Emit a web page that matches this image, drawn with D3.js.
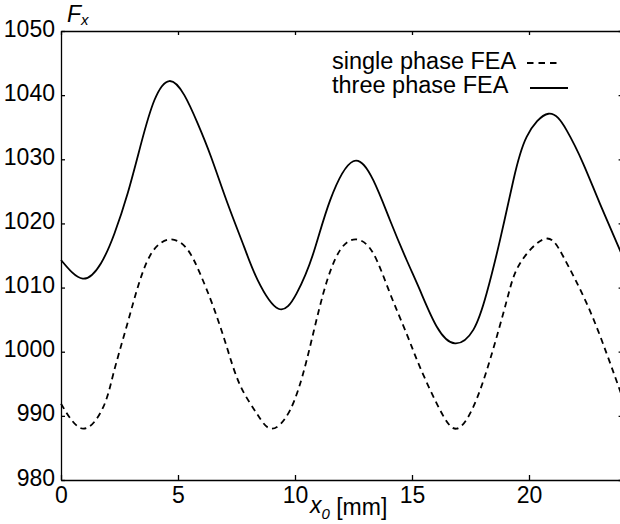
<!DOCTYPE html>
<html>
<head>
<meta charset="utf-8">
<script src="https://cdn.jsdelivr.net/npm/d3@7"></script>
<style>
  body { margin: 0; background: #fff; }
  svg { display: block; font-family: "Liberation Sans", Arial, Helvetica, sans-serif; }
  .axis path, .axis line { stroke: #000; stroke-width: 1.3; }
  .axis text { font-size: 23px; fill: #000; }
</style>
</head>
<body>
<div id="wrapper"></div>
<script>
// data, x0 in mm
const xThree = [0, 0.93, 1.71, 2.28, 2.85, 3.42, 3.99, 4.63, 5.27, 5.84, 6.41, 7.12, 7.83, 8.4, 9.29, 10.07, 10.78, 11.5, 12.49, 13.35, 14.06, 14.77, 15.34, 16.06, 16.84, 17.62, 18.19, 18.76, 19.33, 19.9, 20.83, 21.61, 22.32, 23.03, 23.89, 24]
const yThree = [1014.3, 1011.4, 1013.8, 1018.4, 1024.7, 1032.4, 1039.2, 1042.2, 1040, 1035.6, 1030.4, 1023.1, 1016.3, 1011.2, 1006.7, 1009.1, 1015.3, 1023.6, 1029.7, 1026.7, 1020.5, 1014.3, 1009.6, 1003.9, 1001.3, 1003.4, 1009.1, 1017.4, 1026.7, 1033.5, 1037.1, 1034.5, 1029.3, 1023.1, 1015.8, 1014.8]

const xSingle = [0, 0.95, 1.81, 2.24, 2.8, 3.38, 3.95, 4.66, 5.37, 5.94, 6.51, 7.08, 7.65, 8.36, 9.0, 9.79, 10.5, 11.21, 11.92, 12.64, 13.35, 14.06, 14.77, 15.34, 16.2, 16.91, 17.62, 18.33, 19.05, 19.62, 20.68, 21.47, 22.47, 23.32, 24]
const ySingle = [991.9, 988, 991.4, 996.6, 1003.9, 1011.2, 1015.8, 1017.5, 1016.1, 1012.2, 1007, 1000.8, 994.8, 990.4, 988, 990.9, 998.7, 1009.1, 1015.8, 1017.5, 1015.3, 1009.1, 1002.8, 997.6, 990.9, 988, 991.4, 998.7, 1008, 1013.8, 1017.6, 1014.8, 1007.5, 999.7, 992.8]

const xTicks = [0, 5, 10, 15, 20]
const yTicks = [980, 990, 1000, 1010, 1020, 1030, 1040, 1050]
const legendLabels = ["single phase FEA", "three phase FEA"]

// chart dimensions
let dimensions = {
  width: 620,
  height: 524,
  margin: { top: 31, right: -2.6, bottom: 44, left: 61 },
}
dimensions.boundedWidth = dimensions.width - dimensions.margin.left - dimensions.margin.right
dimensions.boundedHeight = dimensions.height - dimensions.margin.top - dimensions.margin.bottom

const wrapper = d3.select("#wrapper")
  .append("svg")
    .attr("width", dimensions.width)
    .attr("height", dimensions.height)

const bounds = wrapper.append("g")
  .attr("transform", `translate(${dimensions.margin.left},${dimensions.margin.top})`)

// scales
const xScale = d3.scaleLinear()
  .domain([0, 24])
  .range([0, dimensions.boundedWidth])

const yScale = d3.scaleLinear()
  .domain([980, 1050])
  .range([dimensions.boundedHeight, 0])

// lines
const lineGenerator = d3.line()
  .x(d => xScale(d[0]))
  .y(d => yScale(d[1]))
  .curve(d3.curveNatural)

const singleData = xSingle.map((x, i) => [x, ySingle[i]])
const threeData = xThree.map((x, i) => [x, yThree[i]])

bounds.append("path")
  .attr("d", lineGenerator(singleData))
  .attr("fill", "none")
  .attr("stroke", "#000")
  .attr("stroke-width", 1.8)
  .attr("stroke-dasharray", "6,4.5")

bounds.append("path")
  .attr("d", lineGenerator(threeData))
  .attr("fill", "none")
  .attr("stroke", "#000")
  .attr("stroke-width", 1.8)

// axes
const yAxis = bounds.append("g")
  .attr("class", "axis")
  .call(d3.axisLeft(yScale).tickValues(yTicks).tickFormat(d3.format("d")).tickSize(-4).tickSizeOuter(0).tickPadding(6))
yAxis.selectAll("text").attr("dy", "0.22em")

const xAxis = bounds.append("g")
  .attr("class", "axis")
  .attr("transform", `translate(0,${dimensions.boundedHeight})`)
  .call(d3.axisBottom(xScale).tickValues(xTicks).tickFormat(d3.format("d")).tickSize(-5).tickSizeOuter(0).tickPadding(7))

bounds.append("g")
  .attr("class", "axis")
  .call(d3.axisTop(xScale).tickValues(xTicks).tickSize(-4).tickSizeOuter(0).tickFormat(""))

bounds.append("g")
  .attr("class", "axis")
  .attr("transform", `translate(${dimensions.boundedWidth},0)`)
  .call(d3.axisRight(yScale).tickValues(yTicks).tickSize(-4).tickSizeOuter(0).tickFormat(""))

// axis labels
const xLabel = wrapper.append("text")
  .attr("x", 310)
  .attr("y", 513)
  .style("font-size", "23px")
xLabel.append("tspan").style("font-style", "italic").text("x")
xLabel.append("tspan").style("font-style", "italic").style("font-size", "15px").attr("dy", 6).text("0")
xLabel.append("tspan").attr("dy", -4).text(" [mm]")

const yLabel = wrapper.append("text")
  .attr("x", 67)
  .attr("y", 22)
  .style("font-size", "23px")
yLabel.append("tspan").style("font-style", "italic").text("F")
yLabel.append("tspan").style("font-style", "italic").style("font-size", "15px").attr("dy", 3).text("x")

// legend
const legendGroup = wrapper.append("g")
legendGroup.append("text").attr("x", 332).attr("y", 69).style("font-size", "23.5px").text(legendLabels[0])
legendGroup.append("text").attr("x", 332).attr("y", 93).style("font-size", "23.5px").text(legendLabels[1])
legendGroup.append("line")
  .attr("x1", 527).attr("x2", 560).attr("y1", 63).attr("y2", 63)
  .attr("stroke", "#000").attr("stroke-width", 1.8).attr("stroke-dasharray", "6.5,5")
legendGroup.append("line")
  .attr("x1", 530).attr("x2", 568).attr("y1", 88).attr("y2", 88)
  .attr("stroke", "#000").attr("stroke-width", 1.8)
</script>
</body>
</html>
